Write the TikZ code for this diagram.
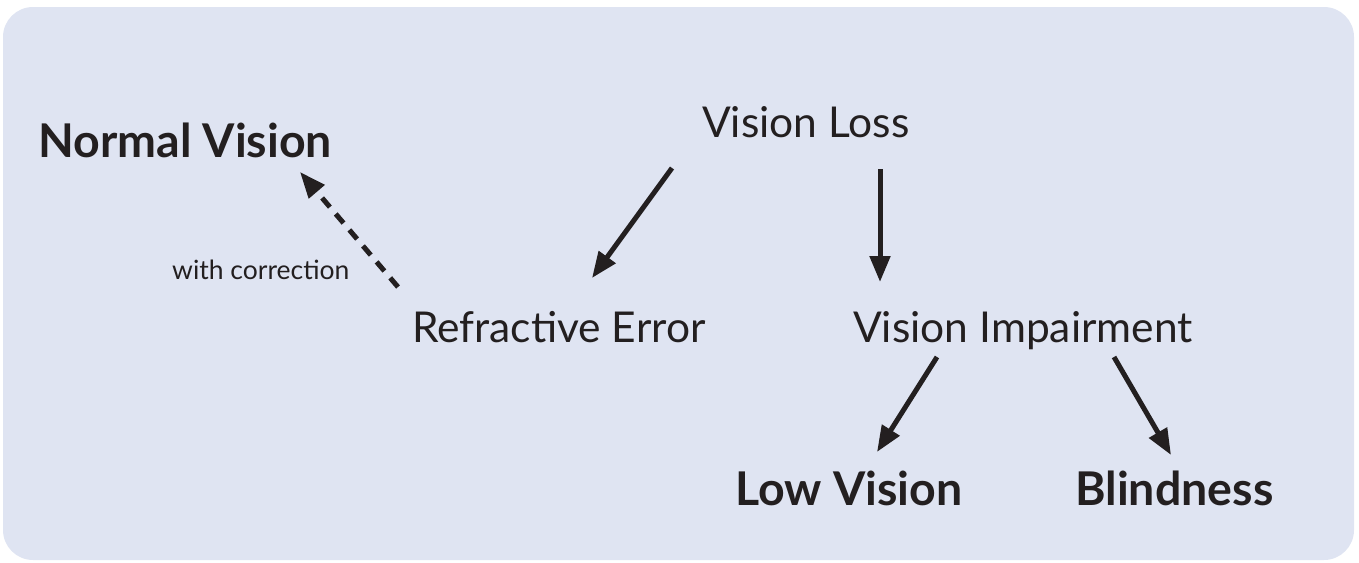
\documentclass[tikz,border=0pt]{standalone}
\usepackage{fontspec}
\setmainfont{Lato}
\usetikzlibrary{arrows.meta}
\definecolor{bg}{HTML}{DFE4F2}
\definecolor{ink}{HTML}{231F20}
\begin{document}
\begin{tikzpicture}[x=1pt,y=-1pt,
  lbl/.style={inner sep=0pt, anchor=base west, text=ink, font=\fontsize{42.5}{46}\selectfont},
  boldlbl/.style={lbl, font=\fontsize{46.5}{50}\selectfont\bfseries},
  smalllbl/.style={lbl, font=\fontsize{26.5}{30}\selectfont},
  arr/.style={draw=ink, line width=5pt, -{Triangle[length=26pt,width=20pt]}},
  dasharr/.style={arr, dash pattern=on 12pt off 9pt}]
\useasboundingbox (0,0) rectangle (1359,562);
\fill[bg, rounded corners=30pt] (3,7) rectangle (1354,560);
\node[lbl] (loss) at (702,137) {Vision Loss};
\node[boldlbl] (normal) at (38,157) {Normal Vision};
\node[smalllbl] (corr) at (172,279) {with correction};
\node[lbl] (refr) at (412,342) {Refractive Error};
\node[lbl] (imp) at (853,342) {Vision Impairment};
\node[boldlbl] (low) at (735,505) {Low Vision};
\node[boldlbl] (blind) at (1075,505) {Blindness};
\coordinate (a1s) at (672,168); \coordinate (a1e) at (592,278);
\coordinate (a2s) at (880,169); \coordinate (a2e) at (880,282);
\coordinate (a3s) at (937,357); \coordinate (a3e) at (877,452);
\coordinate (a4s) at (1114,357); \coordinate (a4e) at (1171,455);
\coordinate (d1s) at (398,287); \coordinate (d1e) at (300,172);
\draw[arr] (a1s) -- (a1e);
\draw[arr] (a2s) -- (a2e);
\draw[arr] (a3s) -- (a3e);
\draw[arr] (a4s) -- (a4e);
\draw[dasharr] (d1s) -- (d1e);
\end{tikzpicture}
\end{document}
